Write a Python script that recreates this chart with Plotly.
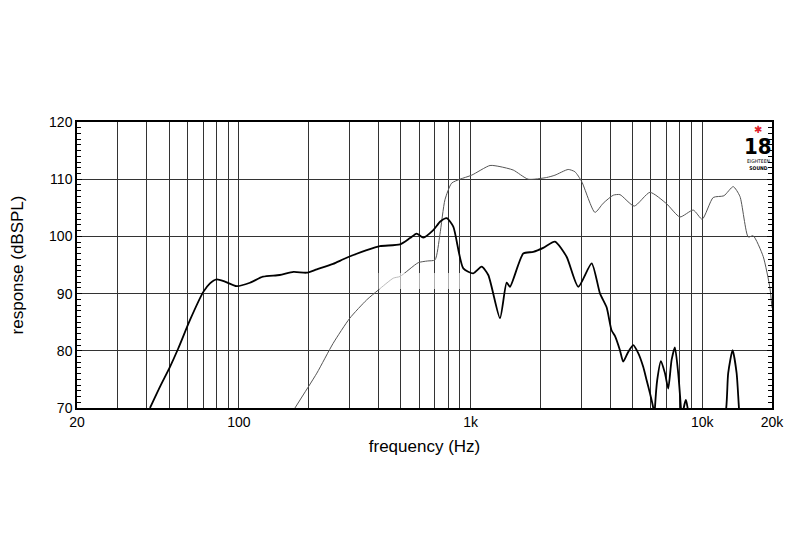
import plotly.graph_objects as go

# Black (thick) response curve: frequency (Hz), level (dBSPL)
black_freq = [41.3, 45.6, 50.4, 54.7, 61.5, 70.2, 75, 80.2, 87, 97.8, 111.6, 127, 150, 172, 196, 217,
              255, 282, 312, 356, 406, 496, 547, 585, 625, 690, 740, 788, 842, 930, 1027, 1116, 1192,
              1339, 1431, 1479, 1688, 1864, 2058, 2312, 2597, 2916, 3330, 3617, 3865, 4058, 4198, 4412,
              4559, 4790, 5034, 5292, 5560, 5749, 5944, 6143, 6200, 6248, 6392, 6633, 6900, 7129, 7374,
              7618, 7873, 8089, 8180, 8275, 8500, 8697, 10500, 12650, 12940, 13520, 14070, 14430, 15500,
              20000]
black_db = [70, 73.7, 77.2, 80.4, 85.4, 90.3, 91.8, 92.5, 92.1, 91.3, 91.9, 92.95, 93.25, 93.8, 93.65, 94.25,
            95.2, 96.0, 96.75, 97.6, 98.3, 98.6, 99.7, 100.5, 99.8, 101.1, 102.6, 103.2, 101.7, 94.4, 93.55,
            94.7, 93.25, 85.7, 91.9, 91.2, 97.0, 97.3, 98.0, 99.1, 96.45, 91.2, 95.3, 90.05, 87.6, 83.6,
            82.6, 80.1, 78.1, 79.8, 81.0, 79.6, 77.2, 74.9, 72.6, 70, 67, 70, 74.9, 78.2, 76.1, 73.4, 78.4,
            80.6, 76.1, 70, 67, 69.5, 71.4, 69.5, 55, 69.5, 76.1, 80.1, 76.1, 69.5, 55, 50]

# Grey (thin) response curve
grey_freq = [174.5, 183.5, 217, 255, 301, 356, 399, 464, 496, 594, 650, 702, 737, 775, 828, 900, 1010,
             1213, 1339, 1528, 1773, 2130, 2312, 2638, 2820, 3016, 3442, 3737, 4128, 4412, 5087, 5944,
             7018, 8008, 9142, 9993, 11150, 12400, 13600, 14540, 15790, 16600, 18320, 19590, 20000]
grey_db = [70, 71.4, 76.1, 81.3, 85.7, 88.9, 90.6, 92.7, 93.0, 95.4, 95.7, 95.9, 100.3, 106.4, 109.3, 110.0,
           110.7, 112.4, 112.2, 111.6, 110.0, 110.3, 110.7, 111.7, 111.3, 109.6, 104.2, 105.8, 107.2, 107.3,
           105.3, 107.7, 105.7, 103.4, 104.6, 103.0, 106.8, 107.1, 108.7, 107.0, 99.9, 100.1, 96.5, 91.0, 87.5]

# Axis ticks
grid_freqs = [m * 10 ** e for e in (1, 2, 3, 4) for m in range(1, 10)]
grid_freqs = [f for f in grid_freqs if 20 <= f <= 20000] + [20000]
label_map = {20: "20", 100: "100", 1000: "1k", 10000: "10k", 20000: "20k"}
x_ticktext = [label_map.get(f, "") for f in grid_freqs]
y_ticks = [70, 80, 90, 100, 110, 120]

font_family = "Liberation Sans, Arial, sans-serif"
narrow_family = "Liberation Sans Narrow, DejaVu Sans Condensed, Liberation Sans, Arial"

fig = go.Figure()
fig.add_trace(go.Scatter(x=grey_freq, y=grey_db, mode="lines",
                         line=dict(color="#555555", width=1, shape="spline", smoothing=0.6),
                         hoverinfo="skip", showlegend=False))
fig.add_trace(go.Scatter(x=black_freq, y=black_db, mode="lines",
                         line=dict(color="#000000", width=1.8, shape="spline", smoothing=0.6),
                         hoverinfo="skip", showlegend=False))

# faint white artefact band
fig.add_shape(type="rect", xref="x", yref="y", x0=400, x1=930, y0=90.8, y1=93.6,
              fillcolor="white", opacity=0.6, line=dict(width=0), layer="above")

# logo
fig.add_annotation(xref="paper", yref="paper", x=0.98, y=1.0, text="✱", showarrow=False,
                   font=dict(color="#e0202a", size=10, family=font_family), xanchor="center", yanchor="top")
fig.add_annotation(xref="paper", yref="paper", x=0.98, y=0.965, text="<b>18</b>", showarrow=False,
                   font=dict(color="#000000", size=22, family=narrow_family),
                   xanchor="center", yanchor="top")
fig.add_annotation(xref="paper", yref="paper", x=0.98, y=0.88, text="EIGHTEEN<br><b>SOUND</b>", showarrow=False,
                   font=dict(color="#000000", size=5, family=narrow_family), xanchor="center", yanchor="top")

fig.update_layout(
    width=800, height=560,
    margin=dict(l=69, r=36, t=114, b=160),
    paper_bgcolor="white", plot_bgcolor="white",
    font=dict(family=font_family, size=14, color="#000000"),
    xaxis=dict(type="log", range=[1.30103, 4.30103], tickvals=grid_freqs, ticktext=x_ticktext,
               showgrid=True, gridcolor="#333333", gridwidth=1, ticks="", automargin=False,
               showline=True, linecolor="#000000", linewidth=1.5, mirror=True,
               title=dict(text="frequency (Hz)", standoff=12), tickfont=dict(size=14)),
    yaxis=dict(range=[70, 120], tickvals=y_ticks, showgrid=True, gridcolor="#333333", gridwidth=1,
               ticks="inside", ticklen=5, tickcolor="#000000", automargin=False,
               minor=dict(dtick=1, ticks="inside", ticklen=4, tickcolor="#000000", showgrid=False),
               showline=True, linecolor="#000000", linewidth=1.5, mirror="allticks",
               title=dict(text="response (dBSPL)", standoff=26), tickfont=dict(size=14)),
)

fig.write_html("out.html")
